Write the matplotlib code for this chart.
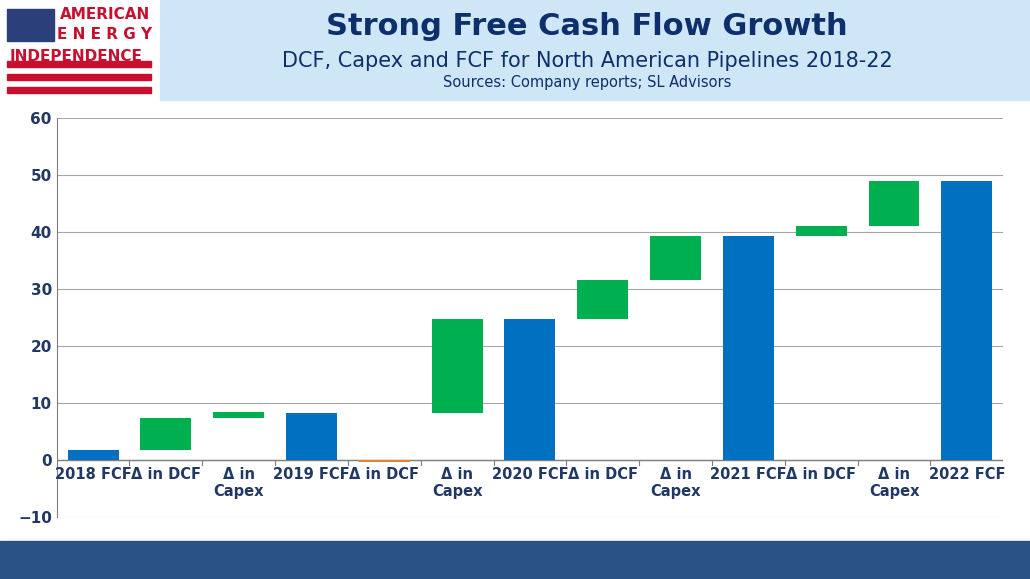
import matplotlib.pyplot as plt
import matplotlib.patches as mpatches

# data
labels = ['2018 FCF', 'Δ in DCF', 'Δ in\nCapex', '2019 FCF', 'Δ in DCF', 'Δ in\nCapex',
          '2020 FCF', 'Δ in DCF', 'Δ in\nCapex', '2021 FCF', 'Δ in DCF', 'Δ in\nCapex', '2022 FCF']
bases = [0, 1.7, 7.4, 0, 0, 8.2, 0, 24.8, 31.6, 0, 39.3, 41.1, 0]
heights = [1.7, 5.7, 1.0, 8.3, -0.3, 16.6, 24.8, 6.8, 7.7, 39.3, 1.8, 7.9, 49.0]
kinds = ['total', 'up', 'up', 'total', 'down', 'up', 'total', 'up', 'up', 'total', 'up', 'up', 'total']

colors = {'total': '#0070c0', 'up': '#00b050', 'down': '#ed7d31'}
navy = '#1f3864'

fig = plt.figure(figsize=(10.30, 5.79), dpi=100)

# header banner
fig.patches.append(mpatches.Rectangle((0.155, 0.827), 0.845, 0.173, transform=fig.transFigure,
                                      color='#cfe6f7', zorder=0))
fig.patches.append(mpatches.Rectangle((0, 0), 1, 0.066, transform=fig.transFigure,
                                      color='#2a5286', zorder=0))
fig.text(0.57, 0.955, 'Strong Free Cash Flow Growth', ha='center', va='center',
         fontsize=22, fontweight='bold', color='#0d2f6b')
fig.text(0.57, 0.895, 'DCF, Capex and FCF for North American Pipelines 2018-22', ha='center',
         va='center', fontsize=15, color='#0d2f6b')
fig.text(0.57, 0.857, 'Sources: Company reports; SL Advisors', ha='center', va='center',
         fontsize=10.5, color='#0d2f6b')

# logo
fig.patches.append(mpatches.Rectangle((0.007, 0.93), 0.045, 0.055, transform=fig.transFigure,
                                      color='#2b3f7a', zorder=1))
for i in range(3):
    fig.patches.append(mpatches.Rectangle((0.007, 0.84 + i * 0.022), 0.14, 0.01,
                                          transform=fig.transFigure, color='#c8102e', zorder=1))
fig.text(0.102, 0.975, 'AMERICAN', ha='center', va='center', fontsize=11, fontweight='bold', color='#c8102e')
fig.text(0.102, 0.94, 'E N E R G Y', ha='center', va='center', fontsize=11, fontweight='bold', color='#c8102e')
fig.text(0.074, 0.902, 'INDEPENDENCE', ha='center', va='center', fontsize=11, fontweight='bold', color='#c8102e')

ax = fig.add_axes([0.055, 0.107, 0.919, 0.689])
x = range(len(labels))
ax.bar(x, heights, bottom=bases, width=0.7, color=[colors[k] for k in kinds], zorder=3)
ax.set_xlim(-0.5, len(labels) - 0.5)
ax.set_ylim(-10, 60)
ax.set_yticks(range(-10, 61, 10))
ax.yaxis.grid(True, color='#a6a6a6', linewidth=0.8, zorder=0)
ax.axhline(0, color='#7f7f7f', linewidth=1, zorder=2)
for s in ['top', 'right', 'bottom']:
    ax.spines[s].set_visible(False)
ax.spines['left'].set_color('#7f7f7f')
ax.set_xticks([])
ax.tick_params(axis='y', length=0, labelsize=11, labelcolor=navy)
for t in ax.get_yticklabels():
    t.set_fontweight('bold')
for i, lab in zip(x, labels):
    ax.text(i, -1.2, lab, ha='center', va='top', fontsize=10.5, fontweight='bold', color=navy)
for i in range(len(labels) + 1):
    ax.plot([i - 0.5, i - 0.5], [0, -0.8], color='#7f7f7f', linewidth=0.8)

fig.savefig('out.png', dpi=100)
